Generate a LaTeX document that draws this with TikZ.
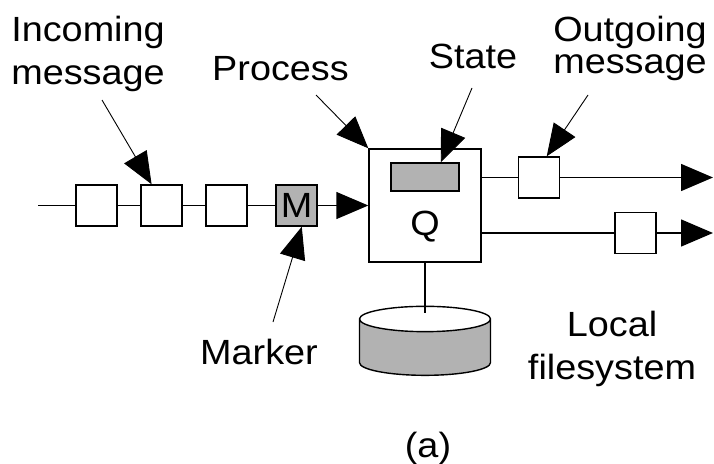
\documentclass[tikz,border=0pt]{standalone}
\usepackage{fontspec}
\setmainfont[FakeStretch=1.08]{Liberation Sans}
\usetikzlibrary{arrows.meta,positioning,shapes.geometric}

\tikzset{
  msg/.style={draw, minimum size=41pt, inner sep=0pt},
  lbl/.style={inner sep=0pt, font=\fontsize{35}{43}\selectfont},
  ptr/.style={line width=0.9pt, -{Triangle[length=32pt,width=26pt]}},
  flow/.style={-{Triangle[length=32pt,width=27pt]}}
}

\begin{document}
\begin{tikzpicture}[x=1pt,y=-1pt,node distance=65pt,on grid,line width=1.4pt]
  \useasboundingbox (0,0) rectangle (714,463);
  % queue of incoming messages
  \coordinate (in) at (38,205.5);
  \node[msg]                  (m1) at (96.5,205.5)  {};
  \node[msg]                  (m2) [right=of m1]    {};
  \node[msg]                  (m3) [right=of m2]    {};
  \node[msg,lbl,fill=gray!60] (mk) [right=70pt of m3] {M};
  % process and its state
  \node[draw,minimum width=112pt,minimum height=113pt] (proc) at (425,205.5) {};
  \node[draw,fill=gray!60,inner sep=0pt,minimum width=68pt,minimum height=28pt] (st) at (425,177) {};
  \node[lbl]                  (q)  at (425,227)     {Q};
  % outgoing messages
  \node[msg]                  (o1) at (539,177.5)   {};
  \node[msg]                  (o2) at (635.5,233)   {};
  \coordinate (out1) at (713,177.5);
  \coordinate (out2) at (713,233);
  % local disk
  \node[cylinder,shape border rotate=90,draw,aspect=3.8,
        minimum width=131pt,minimum height=69pt,
        cylinder uses custom fill,cylinder body fill=gray!60,
        cylinder end fill=white] (disk) at (425,349.5) {};
  % labels
  \node[lbl,anchor=north,align=center] (incl) at (88,15)    {Incoming\\message};
  \node[lbl,anchor=base]               (procl) at (280.5,80) {Process};
  \node[lbl,anchor=base]               (stl)  at (473,68)   {State};
  \node[lbl,anchor=north,align=center,font=\fontsize{35}{32}\selectfont]
                                       (outl) at (630,15)   {Outgoing\\message};
  \node[lbl,anchor=base]               (mkl)  at (259,364)  {Marker};
  \node[lbl,anchor=north,align=center] (fsl)  at (612,310)  {Local\\filesystem};
  \node[lbl,anchor=base]               (cap)  at (428,457)  {(a)};
  \coordinate (incp)  at (102,100);
  \coordinate (procp) at (316,95);
  \coordinate (stp)   at (472,88);
  \coordinate (outp)  at (588,95);
  \coordinate (mkp)   at (273,322);
  % connectors
  \draw (in) -- (m1) -- (m2) -- (m3) -- (mk);
  \draw[flow] (mk) -- (proc);
  \draw (proc.east |- o1) -- (o1);
  \draw[flow] (o1) -- (out1);
  \draw (proc.east |- o2) -- (o2);
  \draw[flow] (o2) -- (out2);
  \draw[shorten >=-7pt] (proc) -- (disk);
  \path[ptr] (incp)  edge (m2.115)
             (procp) edge (proc.north west)
             (stp)   edge (st.43)
             (outp)  edge (o1.70)
             (mkp)   edge (mk.-76);
\end{tikzpicture}
\end{document}
